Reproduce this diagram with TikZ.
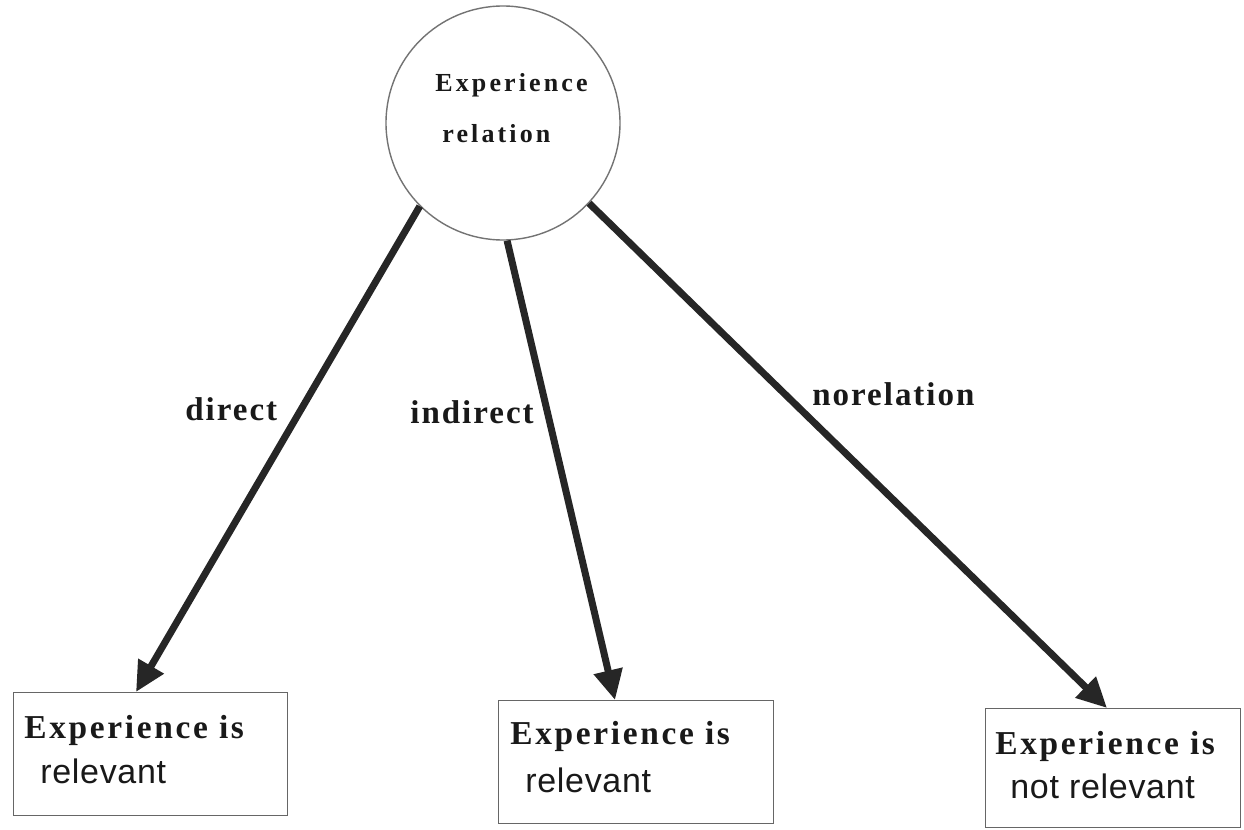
\documentclass[tikz,border=0pt]{standalone}
\usepackage{fontspec}
\setmainfont{Liberation Serif}
\newfontfamily\headserif[LetterSpace=12]{Liberation Serif}
\newfontfamily\boxserif[LetterSpace=8]{Liberation Serif}
\newfontfamily\edgeserif[LetterSpace=6]{Liberation Serif}
\newfontfamily\plainsans[LetterSpace=2]{Liberation Sans}
\usetikzlibrary{arrows.meta}

\begin{document}
\begin{tikzpicture}[x=0.5pt, y=-0.5pt,
  ring/.style={circle, draw=black!55, line width=0.7pt, minimum size=117pt, inner sep=0pt},
  outcome/.style={rectangle, draw=black!60, line width=0.7pt, inner sep=0pt, anchor=north west},
  link/.style={draw=black!85, line width=3.5pt, -{Triangle[length=15pt, width=14pt]}},
  txt/.style={inner sep=0pt, anchor=base west, text=black!90},
  headfont/.style={font=\headserif\bfseries\fontsize{13pt}{15pt}\selectfont},
  edgefont/.style={font=\edgeserif\bfseries\fontsize{16.5pt}{18pt}\selectfont},
  boldfont/.style={font=\boxserif\bfseries\fontsize{16.7pt}{18pt}\selectfont},
  plainfont/.style={font=\plainsans\fontsize{17pt}{19pt}\selectfont}
]
\path[use as bounding box, fill=white] (0,0) rectangle (1244,830);

% central relation node
\node[ring] (rel) at (503,123) {};
\node[txt, headfont] (relA) at (435,91) {Experience};
\node[txt, headfont] (relB) at (442,142) {relation};

% outcome boxes
\node[outcome, minimum width=137pt, minimum height=61.5pt] (b1) at (13,692) {};
\node[outcome, minimum width=137.5pt, minimum height=61.5pt] (b2) at (498,700) {};
\node[outcome, minimum width=127.5pt, minimum height=59.5pt] (b3) at (985,708) {};

\node[txt, boldfont] (b1a) at (24,738) {Experience is};
\node[txt, plainfont] (b1b) at (40,783) {relevant};
\node[txt, boldfont] (b2a) at (510,744) {Experience is};
\node[txt, plainfont] (b2b) at (525,792) {relevant};
\node[txt, boldfont] (b3a) at (995,754) {Experience is};
\node[txt, plainfont] (b3b) at (1010,798) {not relevant};

% connectors
\draw[link] (rel.225) -- ([xshift=61.5pt]b1.north west);
\draw[link] (rel.272) -- ([xshift=58.5pt]b2.north west);
\draw[link] (rel.317) -- ([xshift=61pt]b3.north west);

% connector labels
\node[txt, edgefont] (lDirect) at (185,420) {direct};
\node[txt, edgefont] (lIndirect) at (410,423) {indirect};
\node[txt, edgefont] (lNone) at (812,405) {norelation};
\end{tikzpicture}
\end{document}
